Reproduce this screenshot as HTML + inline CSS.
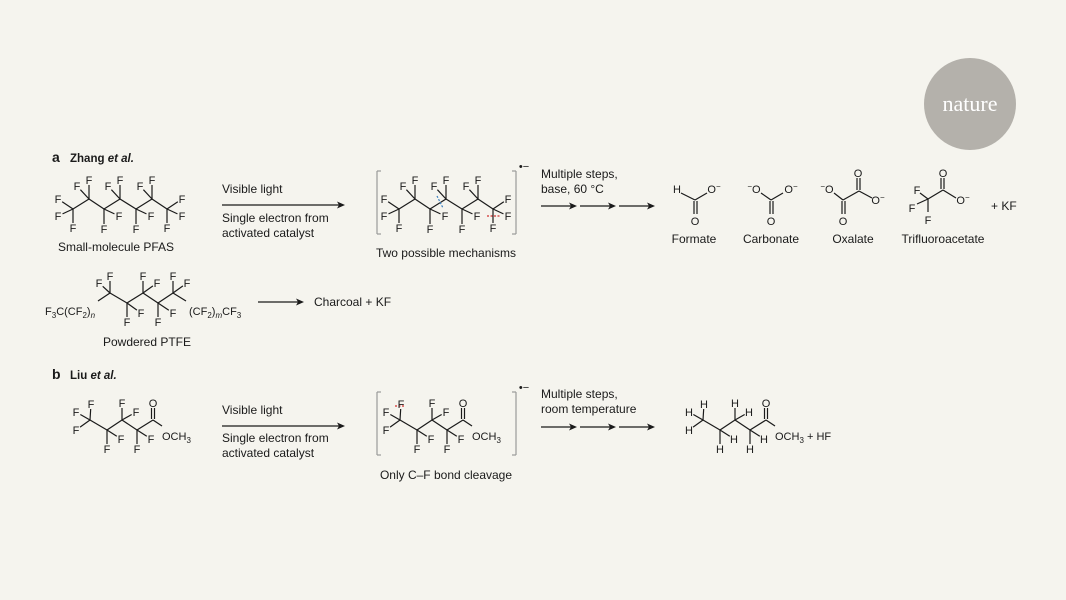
<!DOCTYPE html>
<html><head><meta charset="utf-8"><style>
html,body{margin:0;padding:0;background:#f5f4ee;}
svg{display:block;font-family:"Liberation Sans",sans-serif;}
</style></head><body>
<svg id="s" width="1066" height="600" viewBox="0 0 1066 600" xmlns="http://www.w3.org/2000/svg">
<rect width="1066" height="600" fill="#f5f4ee"/>
<circle cx="970" cy="104" r="46" fill="#b4b1ab"/>
<text x="970" y="111" text-anchor="middle" font-family="Liberation Serif,serif" font-size="22" fill="#fff">nature</text>
<g font-size="12" fill="#1a1a1a">
<text x="52" y="162" font-weight="bold" font-size="14">a</text>
<text x="70" y="162" font-weight="bold" font-size="11.5">Zhang <tspan font-style="italic">et al.</tspan></text>
<text x="52" y="379" font-weight="bold" font-size="14">b</text>
<text x="70" y="379" font-weight="bold" font-size="11.5">Liu <tspan font-style="italic">et al.</tspan></text>
<text x="116" y="251" text-anchor="middle">Small-molecule PFAS</text>
<text x="222" y="193">Visible light</text>
<text x="222" y="222">Single electron from</text>
<text x="222" y="237">activated catalyst</text>
<text x="446" y="257" text-anchor="middle">Two possible mechanisms</text>
<text x="541" y="178">Multiple steps,</text>
<text x="541" y="193">base, 60 °C</text>
<text x="694" y="243" text-anchor="middle">Formate</text>
<text x="771" y="243" text-anchor="middle">Carbonate</text>
<text x="853" y="243" text-anchor="middle">Oxalate</text>
<text x="943" y="243" text-anchor="middle">Trifluoroacetate</text>
<text x="991" y="210">+ KF</text>
<text x="314" y="306">Charcoal + KF</text>
<text x="147" y="346" text-anchor="middle">Powdered PTFE</text>
<text x="222" y="414">Visible light</text>
<text x="222" y="442">Single electron from</text>
<text x="222" y="457">activated catalyst</text>
<text x="446" y="479" text-anchor="middle">Only C–F bond cleavage</text>
<text x="541" y="398">Multiple steps,</text>
<text x="541" y="413">room temperature</text>
</g>
<g id="d" stroke="#1a1a1a" stroke-width="1.2" fill="none"></g>
<g id="t" font-size="11" fill="#1a1a1a" text-anchor="middle"></g>
</svg>
<script>
var NS="http://www.w3.org/2000/svg",D=document.getElementById('d'),T=document.getElementById('t');
function L(x1,y1,x2,y2,c,dash){var e=document.createElementNS(NS,'line');e.setAttribute('x1',x1);e.setAttribute('y1',y1);e.setAttribute('x2',x2);e.setAttribute('y2',y2);if(c)e.setAttribute('stroke',c);if(dash)e.setAttribute('stroke-dasharray',dash);D.appendChild(e);}
function X(x,y,s,a){var e=document.createElementNS(NS,'text');e.setAttribute('x',x);e.setAttribute('y',y+4);if(a)e.setAttribute('text-anchor',a);e.innerHTML=s;T.appendChild(e);}
function B(x1,y1,x2,y2,f){ // bond to atom, shortened
 var dx=x2-x1,dy=y2-y1,l=Math.hypot(dx,dy),k=(l-5)/l;L(x1,y1,x1+dx*k,y1+dy*k);X(x2,y2,f);}
function arrow(x1,x2,y){L(x1,y,x2-6,y);var p=document.createElementNS(NS,'path');p.setAttribute('d','M'+x2+' '+y+' l-8 -3.5 l2 3.5 l-2 3.5z');p.setAttribute('fill','#1a1a1a');p.setAttribute('stroke','none');D.appendChild(p);}
function chain(c){for(var i=0;i<c.length-1;i++)L(c[i][0],c[i][1],c[i+1][0],c[i+1][1]);}
function pfas(o){var c=[[73,209],[89,199],[104,209],[120,199],[136,209],[152,199],[167,209]].map(p=>[p[0]+o,p[1]]);chain(c);
 B(c[0][0],c[0][1],58+o,199,'F');B(c[0][0],c[0][1],58+o,216,'F');B(c[0][0],c[0][1],73+o,228,'F');
 for(var i=1;i<6;i++){var x=c[i][0],y=c[i][1];if(i%2){B(x,y,x,180,'F');B(x,y,x-12,186,'F');}else{B(x,y,x,229,'F');B(x,y,x+15,216,'F');}}
 var x=c[6][0];B(x,209,x+15,199,'F');B(x,209,x+15,216,'F');B(x,209,x,228,'F');
 return c;}
pfas(0);var r=pfas(326);
L(437,196,443,208,'#3a7fc0','2 1.5');L(487,216,500,216,'#d03030','2 1.5');
function br(x1,x2,y1,y2){L(x1+4,y1,x1,y1,'#999');L(x1,y1,x1,y2,'#999');L(x1,y2,x1+4,y2,'#999');L(x2-4,y1,x2,y1,'#999');L(x2,y1,x2,y2,'#999');L(x2,y2,x2-4,y2,'#999');}
br(377,516,171,234);X(524,166,'•−','middle');
br(377,516,392,455);X(524,387,'•−','middle');
arrow(222,345,205);
[541,580,619].forEach(x=>arrow(x,x+36,206));
[541,580,619].forEach(x=>arrow(x,x+36,427));
arrow(258,304,302);arrow(222,345,426);
// formate
L(681,193,695,200);L(695,200,707,193);L(694,201,694,214);L(697,201,697,214);X(677,189,'H');X(714,189,'O<tspan dy="-4" font-size="8">−</tspan>');X(695,221,'O');
// carbonate
L(761,193,771,200);L(771,200,783,193);L(770,201,770,214);L(773,201,773,214);X(754,189,'<tspan dy="-4" font-size="8">−</tspan><tspan dy="4">O</tspan>');X(791,189,'O<tspan dy="-4" font-size="8">−</tspan>');X(771,221,'O');
// oxalate
L(834,193,843,200);L(843,200,859,191);L(859,191,872,198);L(842,201,842,214);L(845,201,845,214);L(857,190,857,178);L(860,190,860,178);X(827,189,'<tspan dy="-4" font-size="8">−</tspan><tspan dy="4">O</tspan>');X(878,200,'O<tspan dy="-4" font-size="8">−</tspan>');X(843,221,'O');X(858,173,'O');
// TFA
L(928,199,943,190);L(943,190,956,198);L(941,189,941,178);L(944,189,944,178);L(928,199,920,193);L(928,199,917,204);L(928,199,928,212);X(917,190,'F');X(912,208,'F');X(928,220,'F');X(943,173,'O');X(963,200,'O<tspan dy="-4" font-size="8">−</tspan>');
// PTFE
var p=[[98,301],[110,293],[127,303],[143,293],[158,303],[173,293],[186,301]];chain(p);
X(45,311,'F<tspan font-size="8" dy="3">3</tspan><tspan dy="-3">C(CF</tspan><tspan font-size="8" dy="3">2</tspan><tspan dy="-3">)</tspan><tspan font-size="8" font-style="italic" dy="3">n</tspan>','start');
X(189,311,'(CF<tspan font-size="8" dy="3">2</tspan><tspan dy="-3">)</tspan><tspan font-size="8" font-style="italic" dy="3">m</tspan><tspan dy="-3">CF</tspan><tspan font-size="8" dy="3">3</tspan>','start');
B(110,293,99,283,'F');B(110,293,110,276,'F');B(127,303,127,322,'F');B(127,303,141,313,'F');B(143,293,143,276,'F');B(143,293,157,283,'F');B(158,303,158,322,'F');B(158,303,173,313,'F');B(173,293,173,276,'F');B(173,293,187,283,'F');
// ester molecules
function ester(o,H){var c=[[90,420],[107,430],[122,420],[137,430],[153,420]].map(q=>[q[0]+o,q[1]]);chain(c);var A=H?'H':'F';
 B(c[0][0],420,c[0][0]-14,412,A);B(c[0][0],420,c[0][0]-14,430,A);B(c[0][0],420,c[0][0]+1,404,A);
 B(c[1][0],430,c[1][0],449,A);B(c[1][0],430,c[1][0]+14,439,A);B(c[2][0],420,c[2][0],403,A);B(c[2][0],420,c[2][0]+14,412,A);
 B(c[3][0],430,c[3][0],449,A);B(c[3][0],430,c[3][0]+14,439,A);
 var x=c[4][0];L(x-1.5,419,x-1.5,408);L(x+1.5,419,x+1.5,408);X(x,403,'O');L(x,420,x+9,426);
 X(x+9,436,'OCH<tspan font-size="8" dy="3">3</tspan>'+(H?'<tspan dy="-3"> + HF</tspan>':''),'start');}
ester(0,false);ester(310,false);ester(613,true);
L(395,406,405,406,'#d03030','2 1.5');
</script>
</body></html>
